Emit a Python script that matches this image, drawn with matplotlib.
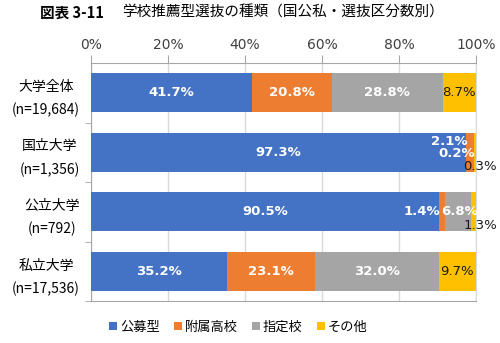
import matplotlib
matplotlib.use('Agg')
import matplotlib.pyplot as plt
import numpy as np

plt.rcParams['font.family'] = ['Noto Sans CJK JP', 'DejaVu Sans']

# データ
categories = ['大学全体\n(n=19,684)', '国立大学\n(n=1,356)', '公立大学\n(n=792)', '私立大学\n(n=17,536)']
series_names = ['公募型', '附属高校', '指定校', 'その他']
koubo = [41.7, 97.3, 90.5, 35.2]
fuzoku = [20.8, 2.1, 1.4, 23.1]
shitei = [28.8, 0.2, 6.8, 32.0]
sonota = [8.7, 0.3, 1.3, 9.7]
x_ticks = [0, 20, 40, 60, 80, 100]

colors = ['#4472C4', '#ED7D31', '#A5A5A5', '#FFC000']
series = [koubo, fuzoku, shitei, sonota]

# 小さい値のラベルのずらし (px)
label_offsets = {
    (1, 1): (-20, 10.5), (1, 2): (-17, -1), (1, 3): (5, -14.5),
    (2, 1): (-20, 0), (2, 2): (2, 0), (2, 3): (7, -13.5),
}

fig = plt.figure(figsize=(5.0, 3.43), dpi=100)
ax = fig.add_axes([0.182, 0.1224, 0.770, 0.6939])

y = np.arange(len(categories))
left = np.zeros(len(categories))
for j, (vals, c, name) in enumerate(zip(series, colors, series_names)):
    ax.barh(y, vals, left=left, height=0.65, color=c, label=name, zorder=3)
    for i, v in enumerate(vals):
        cx = left[i] + v / 2
        dx, dy = label_offsets.get((i, j), (0, 0))
        if j == 3:
            col, fw = '#1a1a1a', 'normal'
        else:
            col, fw = 'white', 'bold'
        ax.annotate(f'{v:.1f}%', (cx, y[i]), xytext=(dx * 0.72, dy * 0.72),
                    textcoords='offset points', ha='center', va='center',
                    fontsize=9.5, color=col, fontweight=fw, family='DejaVu Sans',
                    zorder=5, annotation_clip=False)
    left = left + np.array(vals)

ax.set_xlim(0, 100)
ax.set_ylim(3.5, -0.5)
ax.xaxis.tick_top()
ax.set_xticks(x_ticks)
ax.set_xticklabels([f'{t}%' for t in x_ticks], fontsize=10, color='#404040', family='DejaVu Sans')
ax.tick_params(axis='x', direction='out', length=6, color='#a6a6a6', pad=2)
ax.grid(axis='x', color='#d9d9d9', linewidth=1, zorder=0)

ax.set_yticks(y)
ax.set_yticklabels(categories, fontsize=10, linespacing=1.75)
for lab in ax.get_yticklabels():
    lab.set_multialignment('center')
ax.tick_params(axis='y', length=0, pad=8)
ax.set_yticks([0.5, 1.5, 2.5, 3.5], minor=True)
ax.tick_params(axis='y', which='minor', direction='out', length=4, color='#a6a6a6')

for s in ['top', 'left', 'bottom']:
    ax.spines[s].set_color('#a6a6a6')
ax.spines['right'].set_color('#d9d9d9')

fig.text(0.08, 0.963, '図表 3-11', fontsize=10.5, fontweight='bold', va='center')
fig.text(0.244, 0.963, '学校推薦型選抜の種類（国公私・選抜区分数別）', fontsize=10.5, va='center')

fig.legend(loc='center', bbox_to_anchor=(0.477, 1 - 327 / 343), ncol=4, frameon=False,
           fontsize=9.5, handlelength=0.6, handleheight=0.6, handletextpad=0.2,
           columnspacing=1.1)

fig.savefig('out.png', dpi=100)
